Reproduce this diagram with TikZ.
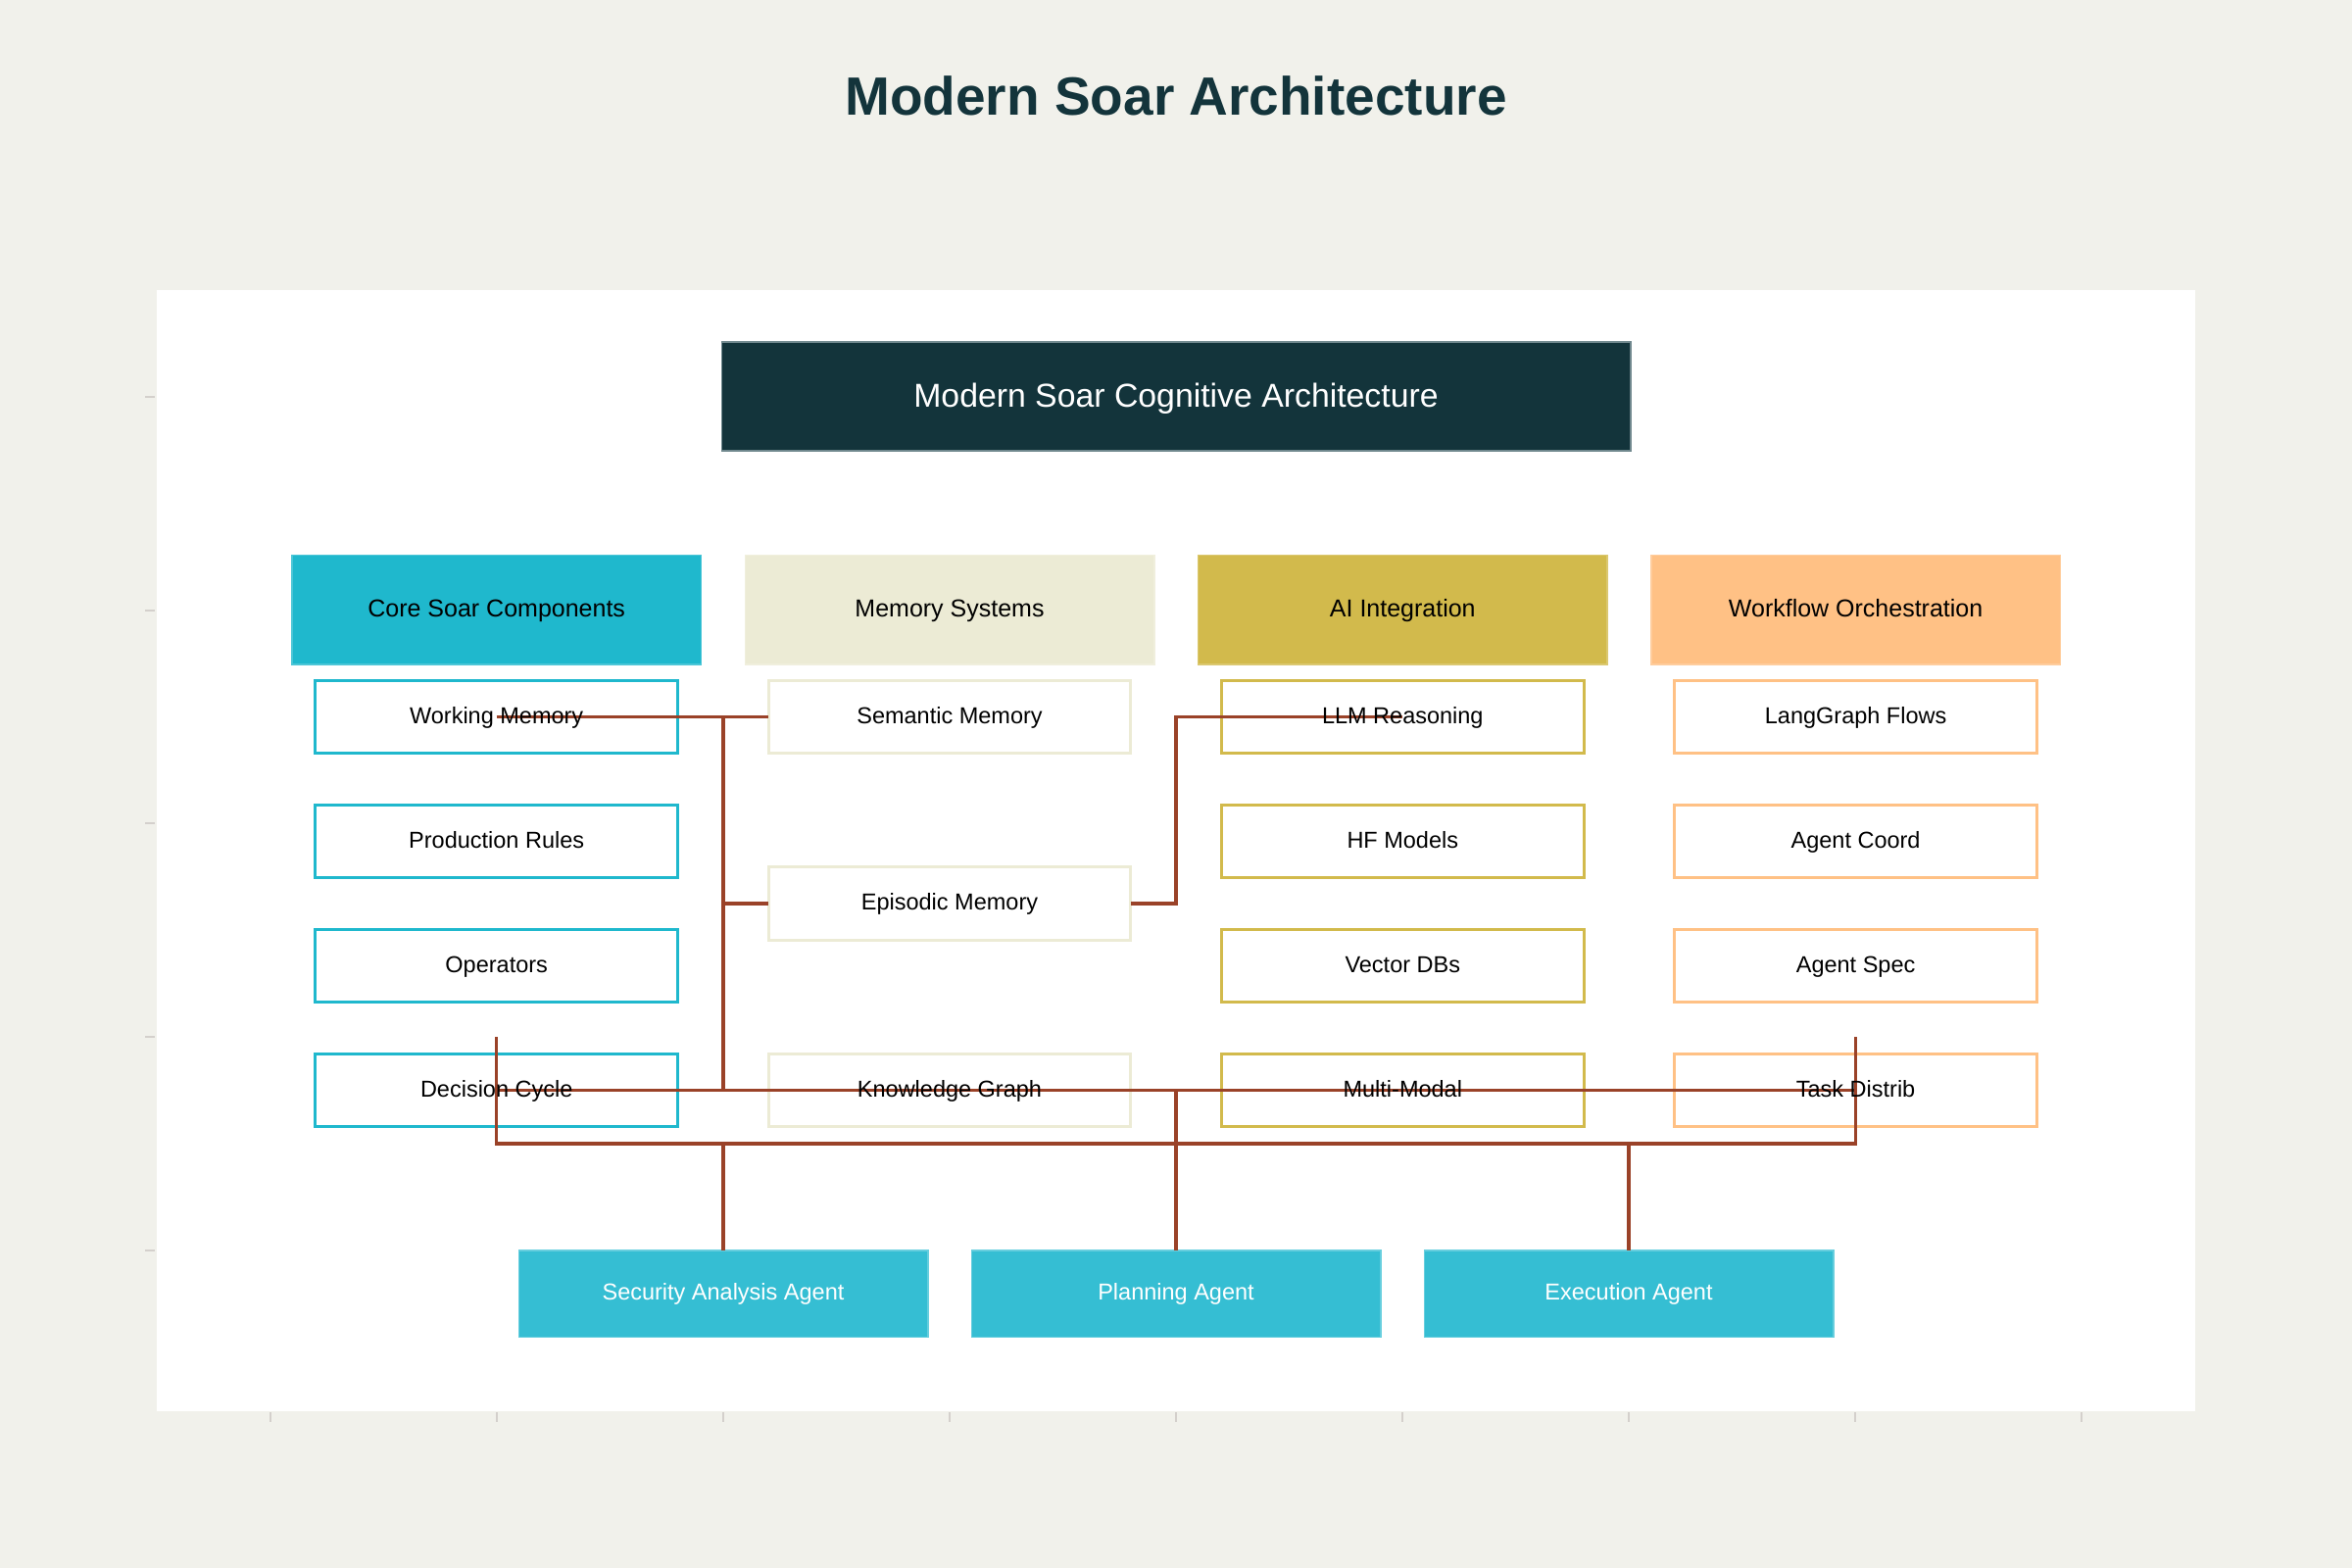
\documentclass[tikz,border=0pt]{standalone}
\usepackage{fontspec}
\setmainfont{Liberation Sans}
\usetikzlibrary{calc}
\definecolor{bgc}{RGB}{241,241,235}
\definecolor{tickc}{RGB}{212,208,204}
\definecolor{darkc}{RGB}{19,52,59}
\definecolor{darkedge}{RGB}{112,136,142}
\definecolor{cA}{RGB}{31,184,205}
\definecolor{cB}{RGB}{236,235,213}
\definecolor{cC}{RGB}{210,186,76}
\definecolor{cD}{RGB}{255,193,133}
\definecolor{agentc}{RGB}{53,190,211}
\definecolor{connc}{RGB}{154,66,40}
\begin{document}
\begin{tikzpicture}[x=1pt,y=-1pt,
  box/.style={rectangle, inner sep=0pt, outer sep=0pt},
  capc/.style={text height=#1, text depth=0pt},
  item/.style={box, draw=#1, line width=3pt, fill=white, minimum width=369.5pt, minimum height=74.5pt},
  header/.style={box, fill=#1, draw=#1!80!white, line width=1.5pt, minimum width=417.5pt, minimum height=111.5pt},
  agent/.style={box, fill=agentc, draw=agentc!75!white, line width=1.5pt, minimum width=417.5pt, minimum height=88.5pt},
  itemtxt/.style={box, capc=13.4pt, font=\fontsize{23.5}{28}\selectfont, text=black},
  headtxt/.style={capc=14.8pt, font=\fontsize{25}{30}\selectfont, text=black},
  agenttxt/.style={capc=13.4pt, font=\fontsize{23.5}{28}\selectfont, text=white},
  conn/.style={draw=connc, line width=3.5pt},
  tick/.style={draw=tickc, line width=2pt}
]
\fill[bgc] (0,0) rectangle (2400,1600);
\useasboundingbox (0,0) rectangle (2400,1600);
% panel
\fill[white] (160,296) rectangle (2240,1440);
% axis ticks
\foreach \yy in {405,622.7,840.4,1058.1,1275.8} \draw[tick] (148,\yy) -- (158,\yy);
\foreach \k in {-4,...,4} \draw[tick] ({1200+231.1*\k},1441) -- ({1200+231.1*\k},1451);

% title
\node[box, capc=39.4pt, font=\fontsize{55}{64}\selectfont\bfseries, text=darkc] (title) at (1200,98) {Modern Soar Architecture};

% top box
\node[box, capc=21.2pt, fill=darkc, draw=darkedge, line width=1.5pt, minimum width=927.5pt, minimum height=111pt,
      font=\fontsize{33.8}{40}\selectfont, text=white] (top) at (1200,404.7) {Modern Soar Cognitive Architecture};

% headers
\node[header=cA, headtxt] (hA) at (506.7,622.3) {Core Soar Components};
\node[header=cB, headtxt] (hB) at (969,622.3) {Memory Systems};
\node[header=cC, headtxt] (hC) at (1431.3,622.3) {AI Integration};
\node[header=cD, headtxt] (hD) at (1893.6,622.3) {Workflow Orchestration};

% item boxes (labels drawn later, above connectors)
\node[item=cA] (wm) at (506.7,731.5) {};
\node[item=cA] (pr) at (506.7,858.6) {};
\node[item=cA] (op) at (506.7,985.6) {};
\node[item=cA] (dc) at (506.7,1112.7) {};
\node[item=cB] (sem) at (969,731.5) {};
\node[item=cB] (epi) at (969,922.1) {};
\node[item=cB] (kg) at (969,1112.7) {};
\node[item=cC] (llm) at (1431.3,731.5) {};
\node[item=cC] (hf) at (1431.3,858.6) {};
\node[item=cC] (vdb) at (1431.3,985.6) {};
\node[item=cC] (mm) at (1431.3,1112.7) {};
\node[item=cD] (lg) at (1893.6,731.5) {};
\node[item=cD] (ac) at (1893.6,858.6) {};
\node[item=cD] (as) at (1893.6,985.6) {};
\node[item=cD] (td) at (1893.6,1112.7) {};

% agents
\node[agent, agenttxt] (sec) at (738,1320) {Security Analysis Agent};
\node[agent, agenttxt] (plan) at (1200,1320) {Planning Agent};
\node[agent, agenttxt] (exe) at (1662,1320) {Execution Agent};

% free ends / bus points
\coordinate (dcTop) at (506.7,1058);
\coordinate (tdTop) at (1893.6,1058);
\coordinate (busL) at (506.7,1167);
\coordinate (busR) at (1893.6,1167);

% connectors
\draw[conn] (wm.center) -- (sem.west);
\draw[conn] (sec.north |- wm.center) |- (epi.west);
\draw[conn] (sec.north |- wm.center) -- (sec.north |- dc.center);
\draw[conn] (dc.center) -- (td.center);
\draw[conn] (epi.east) -| (plan.north |- llm.center) -- (llm.center);
\draw[conn] (plan.north |- dc.center) -- (plan.north);
\draw[conn] (dcTop) -- (busL) -- (busR) -- (tdTop);
\draw[conn] (sec.north |- busL) -- (sec.north);
\draw[conn] (exe.north |- busL) -- (exe.north);

% item labels
\node[itemtxt] at (wm) {Working Memory};
\node[itemtxt] at (pr) {Production Rules};
\node[itemtxt] at (op) {Operators};
\node[itemtxt] at (dc) {Decision Cycle};
\node[itemtxt] at (sem) {Semantic Memory};
\node[itemtxt] at (epi) {Episodic Memory};
\node[itemtxt] at (kg) {Knowledge Graph};
\node[itemtxt] at (llm) {LLM Reasoning};
\node[itemtxt] at (hf) {HF Models};
\node[itemtxt] at (vdb) {Vector DBs};
\node[itemtxt] at (mm) {Multi-Modal};
\node[itemtxt] at (lg) {LangGraph Flows};
\node[itemtxt] at (ac) {Agent Coord};
\node[itemtxt] at (as) {Agent Spec};
\node[itemtxt] at (td) {Task Distrib};
\end{tikzpicture}
\end{document}
